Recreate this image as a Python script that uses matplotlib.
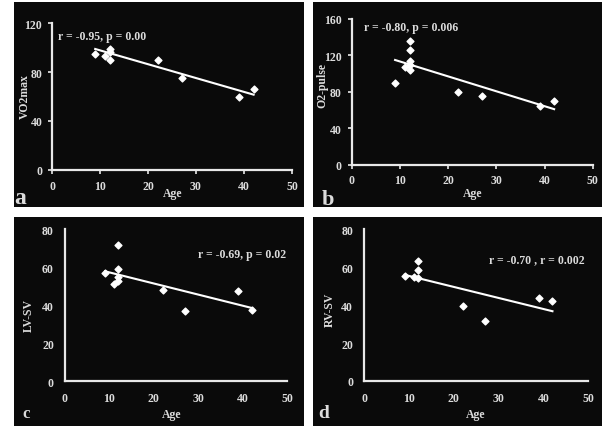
import numpy as np
import matplotlib
matplotlib.use('Agg')
import matplotlib.pyplot as plt

# data
age_a = [9, 11, 12, 12, 12, 22, 27, 39, 42]
vo2max = [95, 93, 99, 96, 90, 90, 75, 60, 66]
trend_a = [98.8, 61.5]

age_b = [9, 11, 12, 12, 12, 12, 12, 22, 27, 39, 42]
o2pulse = [90, 107, 136, 126, 114, 110, 104, 80, 75, 65, 70]
trend_b = [115, 61]

age_c = [9, 12, 12, 12, 12, 11, 22, 27, 39, 42]
lvsv = [57, 72, 59, 55, 53, 51, 48, 37, 47.5, 37.7]
trend_c = [57.9, 38.6]

age_d = [9, 11, 12, 12, 12, 22, 27, 39, 42]
rvsv = [55.6, 55, 63.5, 58.3, 54.4, 39.6, 31.9, 43.8, 42.1]
trend_d = [56, 36.8]

trend_x = [9, 42]
W, H = 602, 427
fig = plt.figure(figsize=(W / 100, H / 100), dpi=100)
fig.patch.set_facecolor('white')

fg = '#dcdcdc'
font = dict(family='Liberation Serif', weight='bold', color=fg)

def px(x0, y0, x1, y1):
    # pixel box (left, top, right, bottom) -> figure fraction
    return [x0 / W, 1 - y1 / H, (x1 - x0) / W, (y1 - y0) / H]

def panel(box, ax_box, x, y, tx, ty, ymax, ystep, ylabel, note, note_xy,
          ticks, letter, letter_xy, letter_size, ylab_xy, age_xy):
    bg = fig.add_axes(px(*box), zorder=0)
    bg.set_facecolor('#0a0a0a')
    bg.set_xticks([]); bg.set_yticks([])
    for s in bg.spines.values():
        s.set_visible(False)
    ax = fig.add_axes(px(*ax_box), zorder=1)
    ax.set_facecolor('none')
    ax.plot(tx, ty, color='white', lw=1.5, zorder=2)
    ax.scatter(x, y, marker='D', s=12, color='white', edgecolors='white',
               zorder=3)
    ax.set_xlim(0, 50)
    ax.set_ylim(0, ymax)
    ax.set_xticks(range(0, 51, 10))
    ax.set_yticks(np.arange(0, ymax + 1, ystep))
    for s in ['top', 'right']:
        ax.spines[s].set_visible(False)
    for s in ['left', 'bottom']:
        ax.spines[s].set_color('#e8e8e8')
        ax.spines[s].set_linewidth(1.6)
    ax.tick_params(colors='#e8e8e8', length=3 if ticks else 0, width=1.2,
                   pad=4 if ticks else 8)
    for lab in ax.get_xticklabels() + ax.get_yticklabels():
        lab.set_fontfamily('Liberation Serif')
        lab.set_fontweight('bold')
        lab.set_fontsize(8.5)
        lab.set_color(fg)
    ax.text(note_xy[0], note_xy[1], note, fontsize=8.5, ha='left',
            va='center', **font)
    fig.text(ylab_xy[0] / W, 1 - ylab_xy[1] / H, ylabel, rotation=90,
             fontsize=8.5, ha='center', va='center', **font)
    fig.text(age_xy[0] / W, 1 - age_xy[1] / H, 'Age', fontsize=8.5,
             ha='center', va='center', **font)
    fig.text(letter_xy[0] / W, 1 - letter_xy[1] / H, letter,
             fontsize=letter_size, ha='center', va='center', **font)

panel((14, 3, 304, 208), (52, 24, 292, 171), age_a, vo2max, trend_x, trend_a,
      120, 40, 'VO2max', 'r = -0.95, p = 0.00', (1.2, 109), True,
      'a', (20, 199), 17, (25, 97), (173, 194))
panel((313, 3, 602, 208), (351.7, 20, 592.7, 165.7), age_b, o2pulse, trend_x,
      trend_b, 160, 40, 'O2-pulse', 'r = -0.80, p = 0.006', (2.6, 151), True,
      'b', (328, 200), 16, (322, 85), (473, 194))
panel((14, 218, 304, 427), (65, 230.3, 287.3, 382.3), age_c, lvsv, trend_x,
      trend_c, 80, 20, 'LV-SV', 'r = -0.69, p = 0.02', (29.9, 67), False,
      'c', (26, 414), 12, (29, 315), (172, 415))
panel((313, 218, 602, 427), (364.3, 230.3, 588.3, 382), age_d, rvsv, trend_x,
      trend_d, 80, 20, 'RV-SV', 'r = -0.70 , r = 0.002', (27.8, 64.4), False,
      'd', (324, 414), 14, (330, 310), (476, 415))

fig.savefig('out.png', dpi=100, facecolor='white')
